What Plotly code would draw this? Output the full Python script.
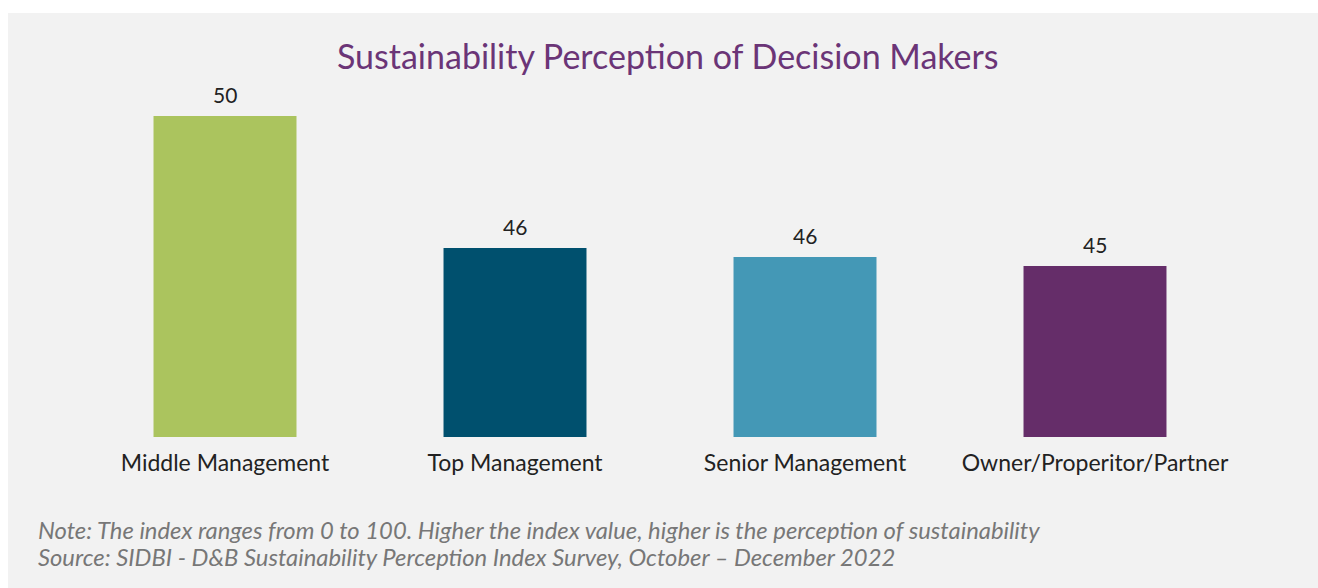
import plotly.graph_objects as go

## Chart data
categories = ['Middle Management', 'Top Management', 'Senior Management', 'Owner/Properitor/Partner']
index_values = [50.3, 45.9, 45.6, 45.3]
value_labels = ['50', '46', '46', '45']
bar_colors = ['#abc45e', '#00506e', '#4498b6', '#652d69']

title_text = 'Sustainability Perception of Decision Makers'
note_lines = [
    'Note: The index ranges from 0 to 100. Higher the index value, higher is the perception of sustainability',
    'Source: SIDBI - D&B Sustainability Perception Index Survey, October \u2013 December 2022',
]

# body margin is removed below, so figure pixels == window pixels
W, H = 1318, 588
ML, MR, MT, MB = 80, 78, 90, 151
PH = H - MT - MB

def px_y(y):
    # pixel row -> paper y
    return (H - MB - y) / PH

def px_x(x):
    return (x - ML) / (W - ML - MR)

FONT = 'Lato'

fig = go.Figure()
fig.add_trace(go.Bar(
    x=categories,
    y=index_values,
    marker=dict(color=bar_colors, line=dict(width=0)),
    hoverinfo='x+y',
))

for cat, val, lab in zip(categories, index_values, value_labels):
    fig.add_annotation(x=cat, y=val, text=lab, showarrow=False,
                       yanchor='bottom', yshift=7,
                       font=dict(family=FONT, size=21, color='#222222'))

## grey card behind everything
fig.add_shape(type='rect', xref='paper', yref='paper', layer='below',
              x0=px_x(8), x1=px_x(W + 10), y0=px_y(H + 10), y1=px_y(13),
              fillcolor='#f2f2f2', line=dict(width=0))

fig.add_annotation(text=title_text, xref='paper', yref='paper',
                   x=px_x(668), y=px_y(55), xanchor='center', yanchor='middle',
                   showarrow=False, font=dict(family=FONT, size=34, color='#6b3577'))

for i, line in enumerate(note_lines):
    fig.add_annotation(text='<i>' + line + '</i>', xref='paper', yref='paper',
                       x=px_x(36), y=px_y(530 + 27 * i), xanchor='left', yanchor='middle',
                       showarrow=False, font=dict(family=FONT, size=23.8, color='#777777'))

fig.update_layout(
    width=W, height=H,
    margin=dict(l=ML, r=MR, t=MT, b=MB, pad=0),
    paper_bgcolor='white',
    plot_bgcolor='rgba(0,0,0,0)',
    bargap=0.507,
    showlegend=False,
    font=dict(family=FONT),
    xaxis=dict(showgrid=False, showline=False, zeroline=False, ticks='',
               ticklabelstandoff=10,
               tickfont=dict(family=FONT, size=23, color='#222222')),
    yaxis=dict(range=[39.6, 39.6 + PH / 30.0], visible=False, showgrid=False),
)

fig.write_html('out.html', config={'displayModeBar': False},
               post_script="document.body.style.margin='0';"
                           "document.documentElement.style.overflow='hidden';")
